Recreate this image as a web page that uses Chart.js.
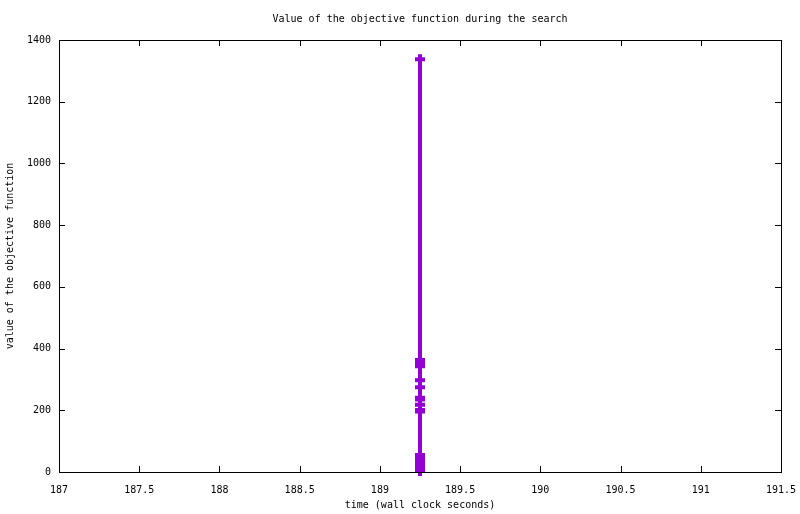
<!DOCTYPE html>
<html>
<head>
<meta charset="utf-8">
<script src="https://cdn.jsdelivr.net/npm/chart.js@4"></script>
<style>
  html, body { margin: 0; padding: 0; background: #fff; }
  #wrap { width: 800px; height: 514px; }
</style>
</head>
<body>
<div id="wrap"><canvas id="chart"></canvas></div>
<script>
// objective value per improvement, all logged at the same wall clock time
const times = [189.25, 189.25, 189.25, 189.25, 189.25, 189.25, 189.25, 189.25, 189.25,
               189.25, 189.25, 189.25, 189.25, 189.25, 189.25, 189.25, 189.25, 189.25, 189.25];
const objective = [1338, 363, 355, 348, 343, 297, 275, 241, 235, 218, 201, 196,
                   55, 47, 38, 30, 21, 12, 3];

const xTicks = [187, 187.5, 188, 188.5, 189, 189.5, 190, 190.5, 191, 191.5];
const yTicks = [0, 200, 400, 600, 800, 1000, 1200, 1400];

const TITLE = 'Value of the objective function during the search';
const FONT = { family: '"DejaVu Sans Mono", monospace', size: 10, weight: 'normal' };
const LINE_COLOR = '#9400d3';

// gnuplot-style frame with inward ticks on all four sides, title over the plot area
const frame = {
    id: 'frame',
    afterDatasetsDraw(chart) {
        const { ctx, chartArea: a, scales } = chart;
        const len = 6;
        ctx.save();
        ctx.strokeStyle = '#000';
        ctx.lineWidth = 1;
        ctx.beginPath();
        xTicks.forEach(v => {
            const px = Math.round(scales.x.getPixelForValue(v)) + 0.5;
            ctx.moveTo(px, a.bottom); ctx.lineTo(px, a.bottom - len);
            ctx.moveTo(px, a.top); ctx.lineTo(px, a.top + len);
        });
        yTicks.forEach(v => {
            const py = Math.round(scales.y.getPixelForValue(v)) + 0.5;
            ctx.moveTo(a.left, py); ctx.lineTo(a.left + len, py);
            ctx.moveTo(a.right, py); ctx.lineTo(a.right - len, py);
        });
        ctx.stroke();
        ctx.strokeRect(Math.round(a.left) + 0.5, Math.round(a.top) + 0.5,
                       Math.round(a.right - a.left), Math.round(a.bottom - a.top));

        ctx.fillStyle = '#000';
        ctx.font = `${FONT.size}px ${FONT.family}`;
        ctx.textAlign = 'center';
        ctx.textBaseline = 'middle';
        ctx.fillText(TITLE, (a.left + a.right) / 2, 19);
        ctx.restore();
    }
};

const ctx = document.getElementById('chart').getContext('2d');
new Chart(ctx, {
    type: 'scatter',
    data: {
        datasets: [{
            data: times.map((t, i) => ({ x: t, y: objective[i] })),
            showLine: true,
            borderColor: LINE_COLOR,
            borderWidth: 4,
            pointStyle: 'cross',
            pointRadius: 5,
            pointBorderWidth: 4,
            pointBorderColor: LINE_COLOR,
            pointBackgroundColor: LINE_COLOR,
            clip: false
        }]
    },
    options: {
        responsive: true,
        maintainAspectRatio: false,
        animation: false,
        layout: { padding: { right: 19, left: 0, top: 40, bottom: 0 } },
        plugins: {
            legend: { display: false },
            tooltip: { enabled: false },
            title: { display: false }
        },
        scales: {
            x: {
                type: 'linear',
                min: 187,
                max: 191.5,
                afterBuildTicks: s => { s.ticks = xTicks.map(v => ({ value: v })); },
                afterFit: s => { s.height = 42; s.paddingLeft = 0; s.paddingRight = 0; },
                grid: { display: false, drawTicks: false },
                border: { display: false },
                ticks: {
                    color: '#000',
                    font: FONT,
                    padding: 12,
                    maxRotation: 0,
                    autoSkip: false,
                    callback: v => String(v)
                },
                title: {
                    display: true,
                    text: 'time (wall clock seconds)',
                    color: '#000',
                    font: FONT,
                    padding: { top: 0, bottom: 3 }
                }
            },
            y: {
                min: 0,
                max: 1400,
                afterBuildTicks: s => { s.ticks = yTicks.map(v => ({ value: v })); },
                afterFit: s => { s.width = 59; s.paddingTop = 0; s.paddingBottom = 0; },
                grid: { display: false, drawTicks: false },
                border: { display: false },
                ticks: {
                    color: '#000',
                    font: FONT,
                    padding: 8,
                    autoSkip: false,
                    callback: v => String(v)
                },
                title: {
                    display: true,
                    text: 'value of the objective function',
                    color: '#000',
                    font: FONT,
                    padding: { top: 4, bottom: 0 }
                }
            }
        }
    },
    plugins: [frame]
});
</script>
</body>
</html>
